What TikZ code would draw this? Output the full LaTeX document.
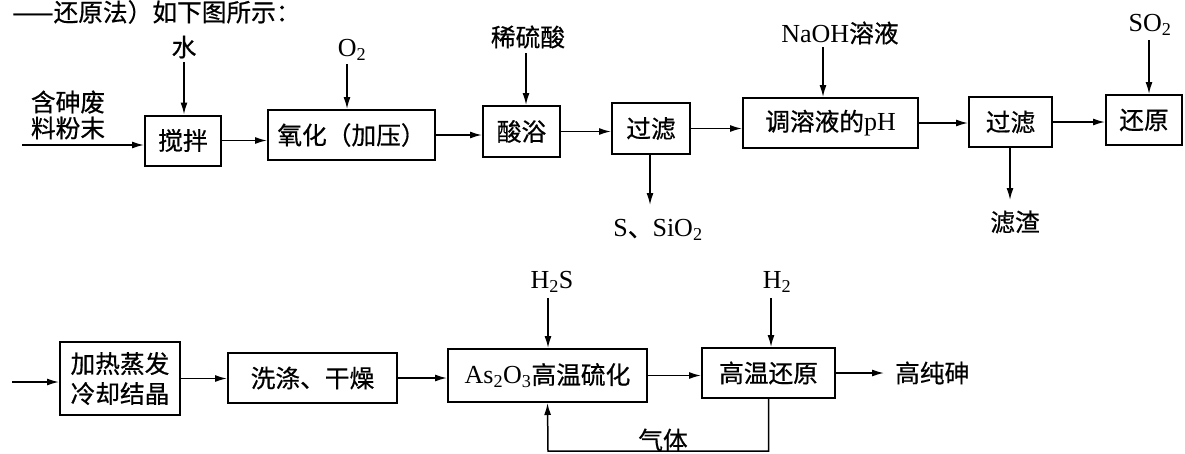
\documentclass[tikz,border=0pt]{standalone}
\usepackage{fontspec}
\setmainfont{Liberation Serif}
\newfontfamily\cjk[Scale=0.95,FakeBold=0.6]{Noto Sans CJK SC}
\usetikzlibrary{arrows.meta}
\begin{document}
\begin{tikzpicture}[x=1pt,y=-1pt,
  box/.style={draw,line width=2pt,inner sep=0pt,minimum height=50pt,font=\fontsize{26}{30}\selectfont,align=center},
  lab/.style={inner sep=0pt,font=\fontsize{26}{26}\selectfont,align=center},
  arr/.style={line width=1.5pt,-{Latex[length=12pt,width=7pt]}}]
\useasboundingbox (0,0) rectangle (1185,453);
\fill[white] (0,0) rectangle (1185,453);
\clip (0,0) rectangle (1185,453);

% top partial text
\node[lab,anchor=west] (top) at (12,12) {{\cjk ——还原法）如下图所示：}};

% row 1 boxes
\node[box,minimum width=76pt] (b1) at (183,140.5) {{\cjk 搅拌}};
\node[box,minimum width=167pt] (b2) at (351.5,135) {{\cjk 氧化（加压）}};
\node[box,minimum width=77pt,minimum height=51pt] (b3) at (521.5,131.5) {{\cjk 酸浴}};
\node[box,minimum width=78pt,minimum height=51pt] (b4) at (651,128.5) {{\cjk 过滤}};
\node[box,minimum width=175pt] (b5) at (830.5,123) {{\cjk 调溶液的}pH};
\node[box,minimum width=83pt] (b6) at (1010.5,122) {{\cjk 过滤}};
\node[box,minimum width=76pt] (b7) at (1144,120) {{\cjk 还原}};

% row 1 labels
\node[lab] (raw) at (68,115) {{\cjk 含砷废}\\{\cjk 料粉末}};
\node[lab] (w) at (184,47) {{\cjk 水}};
\node[lab] (o2) at (352,50) {O\textsubscript{2}};
\node[lab] (acid) at (528,37) {{\cjk 稀硫酸}};
\node[lab] (s) at (658,230) {S{\cjk 、}SiO\textsubscript{2}};
\node[lab] (naoh) at (840,33) {NaOH{\cjk 溶液}};
\node[lab] (res) at (1015,222) {{\cjk 滤渣}};
\node[lab] (so2) at (1150,25) {SO\textsubscript{2}};

\coordinate (rawin) at (22,145);
\coordinate (wa) at (184,62);
\coordinate (o2a) at (347,64);
\coordinate (acida) at (526,53);
\coordinate (sa) at (650,205);
\coordinate (naoha) at (823,47);
\coordinate (resa) at (1010,200);
\coordinate (so2a) at (1149,40);

\draw[arr] (rawin) -- (rawin -| b1.west);
\draw[arr] (wa) -- (wa |- b1.north);
\draw[arr] (o2a) -- (o2a |- b2.north);
\draw[arr] (acida) -- (acida |- b3.north);
\draw[arr] (sa |- b4.south) -- (sa);
\draw[arr] (naoha) -- (naoha |- b5.north);
\draw[arr] (resa |- b6.south) -- (resa);
\draw[arr] (so2a) -- (so2a |- b7.north);

\draw[arr] (b1.east) -- (b1.east -| b2.west);
\draw[arr] (b2.east) -- (b2.east -| b3.west);
\draw[arr] (b3.east) -- (b3.east -| b4.west);
\draw[arr] (b4.east) -- (b4.east -| b5.west);
\draw[arr] (b5.east) -- (b5.east -| b6.west);
\draw[arr] (b6.east) -- (b6.east -| b7.west);

% row 2
\node[box,minimum width=120pt,minimum height=73pt] (c1) at (120,378.5) {{\cjk 加热蒸发}\\{\cjk 冷却结晶}};
\node[box,minimum width=169pt] (c2) at (312.5,378) {{\cjk 洗涤、干燥}};
\node[box,minimum width=199pt,minimum height=53pt] (c3) at (547.5,375.5) {As\textsubscript{2}O\textsubscript{3}{\cjk 高温硫化}};
\node[box,minimum width=133pt] (c4) at (768.5,373) {{\cjk 高温还原}};
\node[lab,anchor=west] (out) at (895,373) {{\cjk 高纯砷}};

\node[lab] (h2s) at (552,282) {H\textsubscript{2}S};
\node[lab] (h2) at (777,282) {H\textsubscript{2}};
\node[lab] (gas) at (663,440) {{\cjk 气体}};

\coordinate (r2in) at (12,382);
\coordinate (h2sa) at (548,298);
\coordinate (h2a) at (771,298);
\coordinate (fb) at (548,451);

\draw[arr] (r2in) -- (r2in -| c1.west);
\draw[arr] (c1.east) -- (c1.east -| c2.west);
\draw[arr] (c2.east) -- (c2.east -| c3.west);
\draw[arr] (c3.east) -- (c3.east -| c4.west);
\draw[arr] (c4.east) -- ++(48,0);
\draw[arr] (h2sa) -- (h2sa |- c3.north);
\draw[arr] (h2a) -- (h2a |- c4.north);
\draw[arr] (c4.south) |- (fb) -- (c3.south);
\end{tikzpicture}
\end{document}
